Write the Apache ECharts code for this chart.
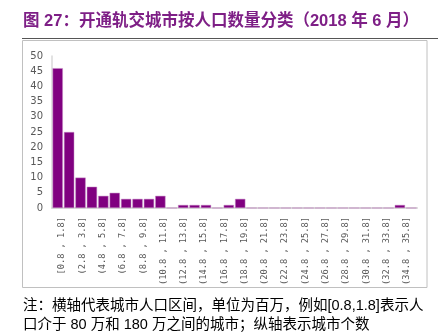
<!DOCTYPE html>
<html>
<head>
<meta charset="utf-8">
<script src="https://cdn.jsdelivr.net/npm/echarts@6/dist/echarts.min.js"></script>
<style>
html,body{margin:0;padding:0;background:#fff;}
#c{width:438px;height:335px;}
</style>
</head>
<body>
<div id="c"></div>
<script>
// bar bins (one per bar slot on the chart)
const barBins = ['b1','b2','b3','b4','b5','b6','b7','b8','b9','b10','b11','b12','b13','b14','b15','b16',
  'b17','b18','b19','b20','b21','b22','b23','b24','b25','b26','b27','b28','b29','b30','b31','b32'];
// number of cities per bin
const cityCounts = [46, 25, 10, 7, 4, 5, 3, 3, 3, 4, 0, 1, 1, 1, 0, 1,
  3, 0, 0, 0, 0, 0, 0, 0, 0, 0, 0, 0, 0, 0, 1, 0];
// x tick labels (population intervals, millions)
const tickLabels = ['[0.8 , 1.8]','(2.8 , 3.8]','(4.8 , 5.8]','(6.8 , 7.8]','(8.8 , 9.8]',
  '(10.8 , 11.8]','(12.8 , 13.8]','(14.8 , 15.8]','(16.8 , 17.8]','(18.8 , 19.8]',
  '(20.8 , 21.8]','(22.8 , 23.8]','(24.8 , 25.8]','(26.8 , 27.8]','(28.8 , 29.8]',
  '(30.8 , 31.8]','(32.8 , 33.8]','(34.8 , 35.8]'];
const titleText = '图 27：开通轨交城市按人口数量分类（2018 年 6 月）';
const noteLine1 = '注：横轴代表城市人口区间，单位为百万，例如[0.8,1.8]表示人';
const noteLine2 = '口介于 80 万和 180 万之间的城市；纵轴表示城市个数';

const hiddenAxis = (type, gi) => ({type: type, gridIndex: gi, show: false, min: 0, max: 1});

const chart = echarts.init(document.getElementById('c'), null, {renderer: 'canvas'});
chart.setOption({
  animation: false,
  backgroundColor: '#ffffff',
  grid: [
    {left: 52, right: 21, top: 56, bottom: 127},
    {left: 22.5, top: 40.5, width: 404.5, height: 247, show: true,
     borderColor: '#c0c0c0', borderWidth: 1, backgroundColor: 'transparent', z: 0},
    {left: 22, top: 38.5, width: 416, height: 0, show: true,
     borderColor: '#555555', borderWidth: 1, backgroundColor: 'transparent', z: 0}
  ],
  xAxis: [
    {
      type: 'category', data: barBins, position: 'bottom', boundaryGap: true, gridIndex: 0,
      axisLine: {show: true, lineStyle: {color: '#d9d9d9', width: 2}},
      axisTick: {show: false}, axisLabel: {show: false}, splitLine: {show: false}
    },
    {
      type: 'category', data: tickLabels, position: 'bottom', offset: 0, boundaryGap: true, gridIndex: 0,
      axisLine: {show: false}, axisTick: {show: false}, splitLine: {show: false},
      axisLabel: {
        show: true, interval: 0, rotate: 90, margin: 9,
        fontFamily: 'DejaVu Sans Mono', fontSize: 8.7, color: '#595959'
      }
    },
    hiddenAxis('value', 1),
    hiddenAxis('value', 2)
  ],
  yAxis: [
    {
      type: 'value', min: 0, max: 50, interval: 5, gridIndex: 0,
      axisLine: {show: true, lineStyle: {color: '#d9d9d9', width: 1.5}},
      axisTick: {show: false},
      splitLine: {show: false},
      axisLabel: {margin: 9, fontFamily: 'DejaVu Sans', fontSize: 10, color: '#595959'}
    },
    hiddenAxis('value', 1),
    hiddenAxis('value', 2)
  ],
  series: [{
    type: 'bar', xAxisIndex: 0, yAxisIndex: 0, data: cityCounts,
    barCategoryGap: '10%',
    itemStyle: {color: '#800080', borderColor: '#c58ac5', borderWidth: 0.5}
  }],
  graphic: {
    elements: [
      {type: 'text', left: 23, top: 13, z: 101,
       style: {text: titleText, fill: '#7e1f86', font: 'bold 16.5px "Liberation Sans", "Noto Sans CJK SC"'}},
      {type: 'text', left: 23, top: 299, z: 101,
       style: {text: noteLine1, fill: '#000000', font: '14.5px "Liberation Sans", "Noto Sans CJK SC"'}},
      {type: 'text', left: 23, top: 318, z: 101,
       style: {text: noteLine2, fill: '#000000', font: '14.5px "Liberation Sans", "Noto Sans CJK SC"'}}
    ]
  }
});
</script>
</body>
</html>
